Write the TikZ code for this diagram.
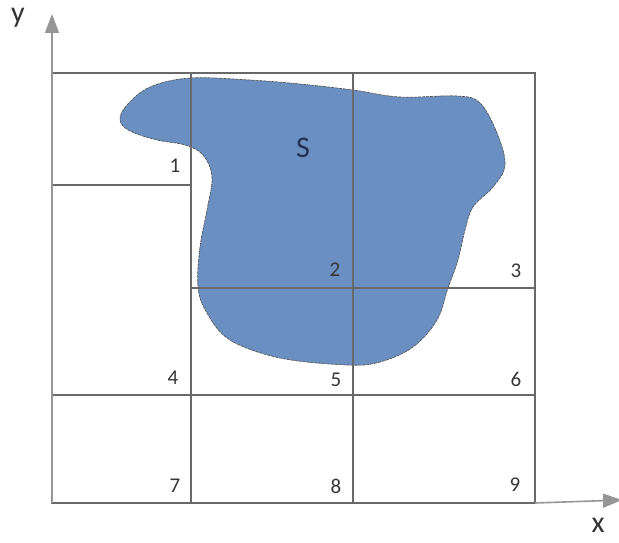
\documentclass[tikz,border=0pt]{standalone}
\usepackage{fontspec}
\setmainfont{Carlito}
\usetikzlibrary{arrows.meta}
\definecolor{blobfill}{RGB}{106,143,192}
\definecolor{gridgray}{RGB}{105,105,105}
\definecolor{axisgray}{RGB}{150,150,150}
\definecolor{labelgray}{RGB}{55,55,55}
\definecolor{sblue}{RGB}{35,50,85}
\tikzset{
  gridline/.style={draw=gridgray, line width=1.7pt},
  axisline/.style={draw=axisgray, line width=1.6pt, -{Triangle[length=19pt,width=14pt]}},
  cellnum/.style={text=labelgray, font=\fontsize{21}{21}\selectfont, inner sep=0pt, anchor=center},
  axislabel/.style={text=black!80, font=\fontsize{30}{30}\selectfont, inner sep=0pt, anchor=center},
  blob/.style={fill=blobfill, draw=black!70, line width=0.6pt, dash pattern=on 3pt off 1pt}
}
\begin{document}
\begin{tikzpicture}[x=1pt,y=-1pt]
\useasboundingbox (0,0) rectangle (619,543);
% coordinates of grid
\coordinate (O) at (52,503);
\coordinate (TL) at (52,73);
\coordinate (TR) at (535,73);
\coordinate (BR) at (535,503);
\coordinate (A1) at (191,73);
\coordinate (A2) at (191,503);
\coordinate (B1) at (353,73);
\coordinate (B2) at (353,503);
\coordinate (L1a) at (52,185);
\coordinate (L1b) at (191,185);
\coordinate (M1a) at (191,288);
\coordinate (M1b) at (535,288);
\coordinate (N1a) at (52,395);
\coordinate (N1b) at (535,395);
\coordinate (YT) at (52,14);
\coordinate (XT) at (622,500);
% blob
\path[blob] plot[smooth cycle, tension=0.6] coordinates {
 (120,120) (127,105) (150,87) (190,78) (250,80) (300,84) (353,90) (400,97)
 (457,96) (480,103) (497,133) (505,165) (493,187) (473,207) (465,230)
 (458,260) (448,288) (437,320) (413,347) (380,362) (347,365) (280,358)
 (230,340) (207,313) (198,287) (200,247) (207,210) (212,177) (203,155)
 (185,145) (157,140) (130,131)};
% grid
\draw[gridline] (TL) -- (TR) -- (BR) -- (O) -- cycle;
\draw[gridline] (A1) -- (A2);
\draw[gridline] (B1) -- (B2);
\draw[gridline] (L1a) -- (L1b);
\draw[gridline] (M1a) -- (M1b);
\draw[gridline] (N1a) -- (N1b);
% axes
\draw[axisline] (O) -- (YT);
\draw[axisline] (BR) -- (XT);
\node[axislabel] (ylab) at (18,18) {y};
\node[axislabel] (xlab) at (598,525) {x};
% labels
\node[cellnum] (n1) at (175,166) {1};
\node[cellnum] (n2) at (335,270) {2};
\node[cellnum] (n3) at (516,271) {3};
\node[cellnum] (n4) at (173,378) {4};
\node[cellnum] (n5) at (336,380) {5};
\node[cellnum] (n6) at (516,379) {6};
\node[cellnum] (n7) at (175,486) {7};
\node[cellnum] (n8) at (336,486) {8};
\node[cellnum] (n9) at (515,485) {9};
\node[text=sblue, font=\fontsize{30}{30}\selectfont, inner sep=0pt] (S) at (303,148) {S};
\end{tikzpicture}
\end{document}
